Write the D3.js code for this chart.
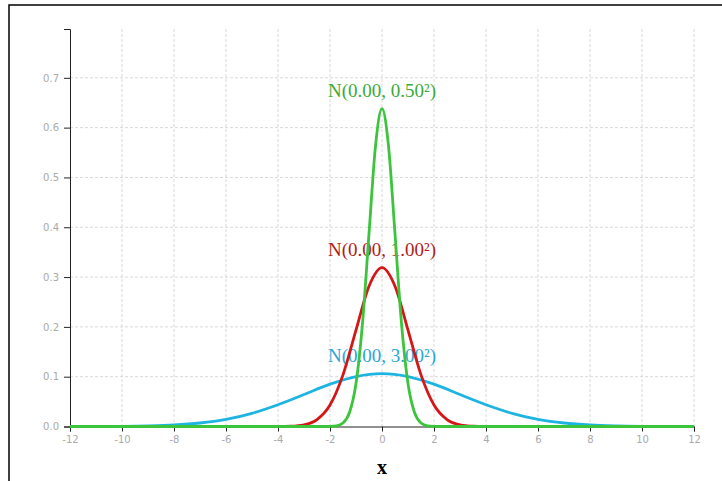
<!DOCTYPE html>
<html>
<meta charset="utf-8">
<title>Normal distributions</title>
<style>
html, body {
  margin: 0;
  padding: 0;
  background: #fff;
}
.axis text {
  font-family: "DejaVu Sans", sans-serif;
  font-size: 10px;
  fill: #aaa;
}
.axis path, .axis line {
  stroke: #222;
}
.grid line {
  stroke: #d9d9d9;
  stroke-dasharray: 3,2;
}
.curve {
  fill: none;
  stroke-width: 2.8;
}
.label {
  font-family: "Liberation Serif", "Times New Roman", serif;
  font-size: 19px;
  text-anchor: middle;
}
</style>
<svg></svg>
<script src="https://d3js.org/d3.v7.min.js"></script>
<script>

// values
var xTicks = [-12, -10, -8, -6, -4, -2, 0, 2, 4, 6, 8, 10, 12];
var yTicks = [0.0, 0.1, 0.2, 0.3, 0.4, 0.5, 0.6, 0.7];
var yMax = 0.798;

var blueX = [-12, -11, -10, -9, -8, -7, -6, -5, -4, -3, -2, -1, 0, 1, 2, 3, 4, 5, 6, 7, 8, 9, 10, 11, 12];
var blueY = [0.0000, 0.0001, 0.0004, 0.0012, 0.0030, 0.0070, 0.0144, 0.0265, 0.0436, 0.0643, 0.0850, 0.1003, 0.1061,
             0.1003, 0.0850, 0.0643, 0.0436, 0.0265, 0.0144, 0.0070, 0.0030, 0.0012, 0.0004, 0.0001, 0.0000];

var redX = [-12, -4.5, -4, -3.5, -3, -2.5, -2, -1.5, -1, -0.5, 0, 0.5, 1, 1.5, 2, 2.5, 3, 3.5, 4, 4.5, 12];
var redY = [0, 0.0000, 0.0001, 0.0007, 0.0035, 0.0140, 0.0432, 0.1036, 0.1936, 0.2816, 0.3190,
            0.2816, 0.1936, 0.1036, 0.0432, 0.0140, 0.0035, 0.0007, 0.0001, 0.0000, 0];

var greenX = [-12, -2.25, -2, -1.75, -1.5, -1.25, -1, -0.75, -0.5, -0.25, 0, 0.25, 0.5, 0.75, 1, 1.25, 1.5, 1.75, 2, 2.25, 12];
var greenY = [0, 0.0000, 0.0002, 0.0014, 0.0071, 0.0280, 0.0863, 0.2070, 0.3870, 0.5630, 0.6380,
              0.5630, 0.3870, 0.2070, 0.0863, 0.0280, 0.0071, 0.0014, 0.0002, 0.0000, 0];

var series = [
  {name: "N(0.00, 3.00\u00b2)", xs: blueX, ys: blueY, color: "#1eb4e2", text: "#2aa6d6"},
  {name: "N(0.00, 1.00\u00b2)", xs: redX, ys: redY, color: "#d41616", text: "#b01c22"},
  {name: "N(0.00, 0.50\u00b2)", xs: greenX, ys: greenY, color: "#3cc43c", text: "#3aab3a"}
];

var svg = d3.select("svg")
    .attr("width", 722)
    .attr("height", 481);

var margin = {top: 29, left: 70},
    width = 624,
    height = 397.5;

// frame
svg.append("rect")
    .attr("x", 9)
    .attr("y", 5)
    .attr("width", 900)
    .attr("height", 700)
    .attr("fill", "none")
    .attr("stroke", "#111")
    .attr("stroke-width", 1.6);

var x = d3.scaleLinear().domain([-12, 12]).range([0, width]),
    y = d3.scaleLinear().domain([0, yMax]).range([height, 0]);

var g = svg.append("g")
    .attr("transform", "translate(" + margin.left + "," + margin.top + ")");

// grid
g.append("g").attr("class", "grid")
  .selectAll("line.v")
  .data(xTicks.slice(1))
  .enter().append("line")
    .attr("x1", function(d) { return x(d); })
    .attr("x2", function(d) { return x(d); })
    .attr("y1", 0)
    .attr("y2", height);

g.append("g").attr("class", "grid")
  .selectAll("line.h")
  .data(yTicks.slice(1))
  .enter().append("line")
    .attr("x1", 0)
    .attr("x2", width)
    .attr("y1", function(d) { return y(d); })
    .attr("y2", function(d) { return y(d); });

g.append("g")
    .attr("class", "axis axis--x")
    .attr("transform", "translate(0," + height + ")")
    .call(d3.axisBottom(x).tickValues(xTicks).tickFormat(function(d) { return String(d); }).tickSize(5).tickPadding(4));

g.append("g")
    .attr("class", "axis axis--y")
    .call(d3.axisLeft(y).tickValues(yTicks).tickFormat(d3.format(".1f")).tickSize(6).tickPadding(5));

g.selectAll(".axis text").style("fill", "#aaa");

// labels sit under the curves
g.selectAll("text.label")
    .data(series)
  .enter().append("text")
    .attr("class", "label")
    .attr("x", x(0))
    .attr("y", function(d) { return y(d3.max(d.ys)) - 12; })
    .attr("fill", function(d) { return d.text; })
    .text(function(d) { return d.name; });

var line = d3.line()
    .x(function(p) { return x(p[0]); })
    .y(function(p) { return y(p[1]); })
    .curve(d3.curveMonotoneX);

g.selectAll(".curve")
    .data(series)
  .enter().append("path")
    .attr("class", "curve")
    .attr("stroke", function(d) { return d.color; })
    .attr("d", function(d) { return line(d3.zip(d.xs, d.ys)); });

g.append("text")
    .attr("x", x(0))
    .attr("y", height + 47)
    .attr("text-anchor", "middle")
    .style("font-family", "Liberation Serif, serif")
    .style("font-weight", "bold")
    .style("font-size", "20px")
    .text("x");

</script>
</html>
